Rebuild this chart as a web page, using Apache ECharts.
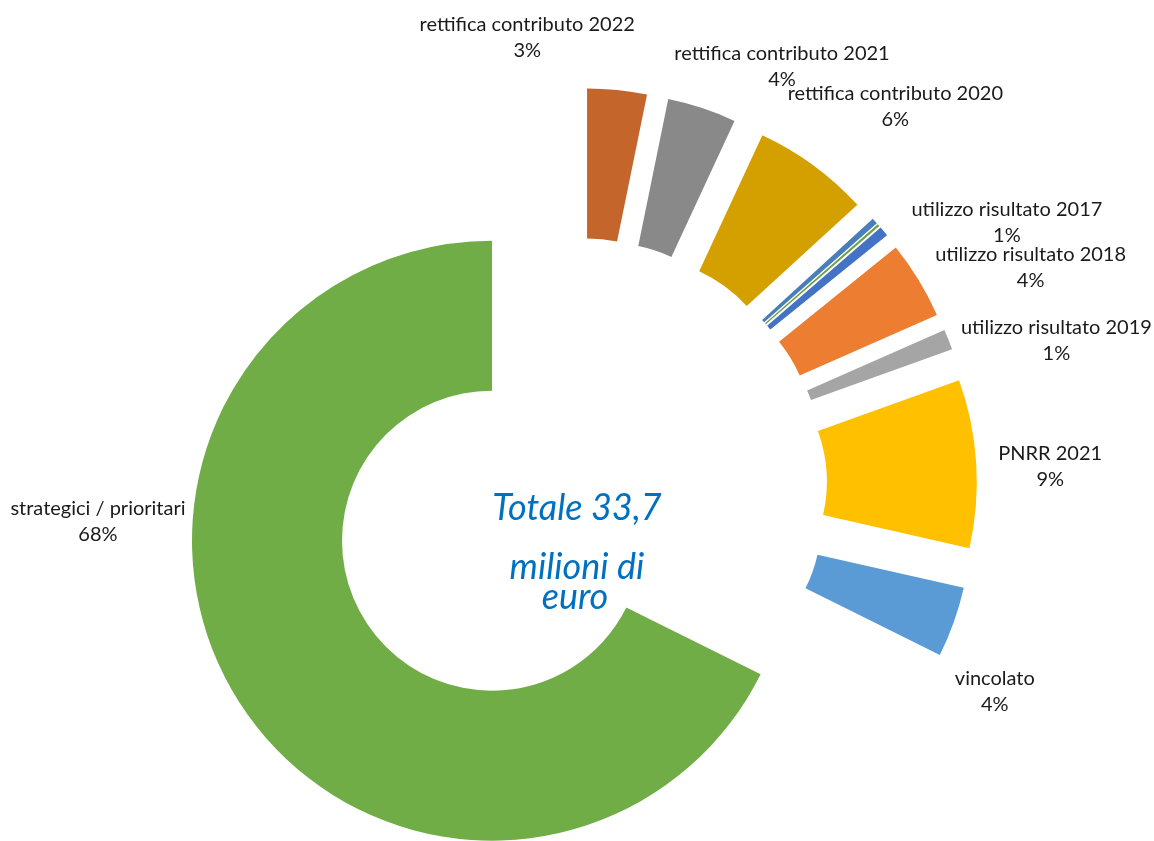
<!DOCTYPE html>
<html>
<head>
<meta charset="utf-8">
<title>Totale 33,7 milioni di euro</title>
<script src="https://cdn.jsdelivr.net/npm/echarts@6/dist/echarts.min.js"></script>
<style>
  html, body { margin: 0; padding: 0; background: #fff; }
  #chart { width: 1154px; height: 841px; }
</style>
</head>
<body>
<div id="chart"></div>
<script>
// voci in senso orario da ore 12, valori in milioni di euro
var categories = [
  "rettifica contributo 2022",
  "rettifica contributo 2021",
  "rettifica contributo 2020",
  "",
  " ",
  "utilizzo risultato 2017",
  "utilizzo risultato 2018",
  "utilizzo risultato 2019",
  "PNRR 2021",
  "vincolato",
  "strategici / prioritari"
];
var values = [1.08, 1.25, 2.12, 0.11, 0.04, 0.18, 1.42, 0.37, 3.05, 1.28, 22.8];
var showLabel = [true, true, true, false, false, true, true, true, true, true, true];
var centerLines = ["Totale 33,7", "milioni di", "euro"];

var colors = ["#C4662B", "#898989", "#D4A000", "#4A7EBB", "#6AA046", "#4472C4",
              "#ED7D31", "#A5A5A5", "#FFC000", "#5B9BD5", "#70AD47"];

// spostamento delle etichette rispetto al bordo esterno di ogni fetta
var labelNudge = [[-90, -52], [80, -41], [82, -59], [0, 0], [0, 0], [123, -9],
                  [112, -12], [108, 1], [74, 3], [41, 69], [-139, -177]];

var cx = 577, cy = 488, rIn = 150, rOut = 300, explode = 100;
var total = values.reduce(function (a, b) { return a + b; }, 0);

// angolo medio di ogni fetta (gradi, in senso orario da nord)
var midAngles = [];
var acc = 0;
values.forEach(function (v) {
  midAngles.push((acc + v / 2) / total * 360);
  acc += v;
});

const chart = echarts.init(document.getElementById("chart"));

var centerStyle = {
  fontFamily: "Lato", fontStyle: "italic", fontSize: 36,
  fill: "#0070C0", align: "center", verticalAlign: "middle"
};

var option = {
  animation: false,
  backgroundColor: "#fff",
  series: [
    {
      // fette esplose
      type: "pie",
      center: [cx, cy],
      radius: [rIn, rOut],
      startAngle: 90,
      clockwise: true,
      selectedMode: "multiple",
      selectedOffset: explode,
      avoidLabelOverlap: false,
      itemStyle: { borderWidth: 0 },
      emphasis: { disabled: true },
      label: { show: false },
      labelLine: { show: false },
      data: values.map(function (v, i) {
        return {
          name: categories[i],
          value: v,
          selected: true,
          itemStyle: { color: colors[i] }
        };
      })
    },
    {
      // stesso anello, trasparente, solo per le etichette
      type: "pie",
      silent: true,
      center: [cx, cy],
      radius: [rIn, rOut],
      startAngle: 90,
      clockwise: true,
      avoidLabelOverlap: false,
      itemStyle: { color: "rgba(0,0,0,0)", borderWidth: 0 },
      emphasis: { disabled: true },
      labelLine: { show: false },
      label: {
        show: true,
        position: "outside",
        fontFamily: "Lato",
        fontSize: 20,
        lineHeight: 26,
        color: "#1a1a1a",
        align: "center",
        formatter: function (p) {
          return p.name + "\n" + Math.round(p.value / total * 100) + "%";
        }
      },
      labelLayout: function (params) {
        var i = params.dataIndex;
        var a = midAngles[i] * Math.PI / 180;
        var d = explode + rOut;
        return {
          x: cx + d * Math.sin(a) + labelNudge[i][0],
          y: cy - d * Math.cos(a) + labelNudge[i][1],
          align: "center",
          verticalAlign: "middle"
        };
      },
      data: values.map(function (v, i) {
        return {
          name: categories[i],
          value: v,
          label: { show: showLabel[i] }
        };
      })
    }
  ],
  graphic: [
    { type: "text", x: cx, y: 508, style: Object.assign({ text: centerLines[0] }, centerStyle) },
    { type: "text", x: cx, y: 567, style: Object.assign({ text: centerLines[1] }, centerStyle) },
    { type: "text", x: cx - 2, y: 597, style: Object.assign({ text: centerLines[2] }, centerStyle) }
  ]
};

chart.setOption(option);
window.onresize = chart.resize;
</script>
</body>
</html>
